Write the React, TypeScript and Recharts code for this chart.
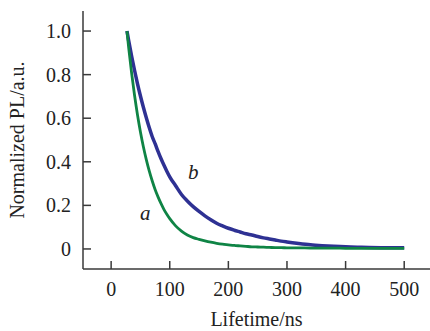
import { Line, LineChart, ReferenceDot, XAxis, YAxis, Label } from "recharts";

const times = [
  27, 30, 35, 40, 45, 50, 55, 60, 65, 70, 75, 80, 85, 90, 95, 100, 110, 120, 130, 140, 150, 160,
  170, 180, 190, 200, 210, 220, 230, 240, 250, 260, 270, 280, 290, 300, 320, 340, 360, 380, 400,
  420, 440, 460, 480, 500,
];

// sample a (fast decay)
const decayA = [
  1.0, 0.922, 0.806, 0.704, 0.615, 0.537, 0.469, 0.41, 0.358, 0.313, 0.273, 0.239, 0.209, 0.182,
  0.159, 0.139, 0.106, 0.082, 0.064, 0.052, 0.044, 0.037, 0.031, 0.026, 0.022, 0.019, 0.016, 0.014,
  0.012, 0.01, 0.009, 0.008, 0.007, 0.006, 0.006, 0.005, 0.005, 0.004, 0.004, 0.004, 0.003, 0.003,
  0.003, 0.003, 0.003, 0.003,
];

// sample b (slow decay)
const decayB = [
  1.0, 0.955, 0.884, 0.819, 0.758, 0.702, 0.65, 0.602, 0.557, 0.516, 0.483, 0.448, 0.415, 0.385,
  0.357, 0.331, 0.29, 0.25, 0.22, 0.194, 0.172, 0.152, 0.134, 0.118, 0.106, 0.095, 0.086, 0.078,
  0.07, 0.064, 0.057, 0.051, 0.046, 0.041, 0.036, 0.032, 0.025, 0.019, 0.015, 0.012, 0.01, 0.008,
  0.007, 0.006, 0.005, 0.005,
];

const xTicks = [0, 100, 200, 300, 400, 500];
const yTicks = [0, 0.2, 0.4, 0.6, 0.8, 1.0];

const data = times.map((t, i) => ({ t, a: decayA[i], b: decayB[i] }));

const font = "'Liberation Serif', 'Times New Roman', serif";
const axisColor = "#3a3a3a";
const tickStyle = { fontSize: 20, fill: "#222", fontFamily: font };

export default function App() {
  return (
    <div style={{ position: "absolute", left: 0, top: 0, background: "#fff" }}>
      <LineChart
        width={430}
        height={331}
        data={data}
        margin={{ top: 11, right: 0, left: 0, bottom: 0 }}
      >
        <XAxis
          xAxisId="top"
          orientation="top"
          type="number"
          dataKey="t"
          domain={[-48, 544]}
          allowDataOverflow
          height={0}
          tick={false}
          tickLine={false}
          stroke={axisColor}
          strokeWidth={1.5}
        />
        <XAxis
          type="number"
          dataKey="t"
          domain={[-48, 544]}
          allowDataOverflow
          ticks={xTicks}
          height={62}
          tickSize={-8}
          tickMargin={21}
          tick={tickStyle}
          stroke={axisColor}
          strokeWidth={1.5}
        >
          <Label
            value="Lifetime/ns"
            position="insideBottom"
            offset={5}
            style={{ fontSize: 20, fill: "#222", fontFamily: font }}
          />
        </XAxis>
        <YAxis
          type="number"
          domain={[-0.092, 1.092]}
          allowDataOverflow
          ticks={yTicks}
          width={83}
          tickSize={-8}
          tickMargin={20}
          tickFormatter={(v: number) => (v === 0 ? "0" : v.toFixed(1))}
          tick={tickStyle}
          stroke={axisColor}
          strokeWidth={1.5}
        >
          <Label
            content={() => (
              <text
                x={24}
                y={140}
                transform="rotate(-90 24 140)"
                textAnchor="middle"
                style={{ fontSize: 20, fill: "#222", fontFamily: font }}
              >
                Normalized PL/a.u.
              </text>
            )}
          />
        </YAxis>
        <Line
          type="monotone"
          dataKey="b"
          stroke="#2e3193"
          strokeWidth={3.5}
          dot={false}
          isAnimationActive={false}
        />
        <Line
          type="monotone"
          dataKey="a"
          stroke="#0f8445"
          strokeWidth={2.8}
          dot={false}
          isAnimationActive={false}
        />
        <ReferenceDot
          x={58}
          y={0.165}
          r={0}
          fill="none"
          stroke="none"
          label={{ value: "a", position: "center", fontSize: 21, fontStyle: "italic", fill: "#222", fontFamily: font }}
        />
        <ReferenceDot
          x={140}
          y={0.353}
          r={0}
          fill="none"
          stroke="none"
          label={{ value: "b", position: "center", fontSize: 21, fontStyle: "italic", fill: "#222", fontFamily: font }}
        />
      </LineChart>
    </div>
  );
}
